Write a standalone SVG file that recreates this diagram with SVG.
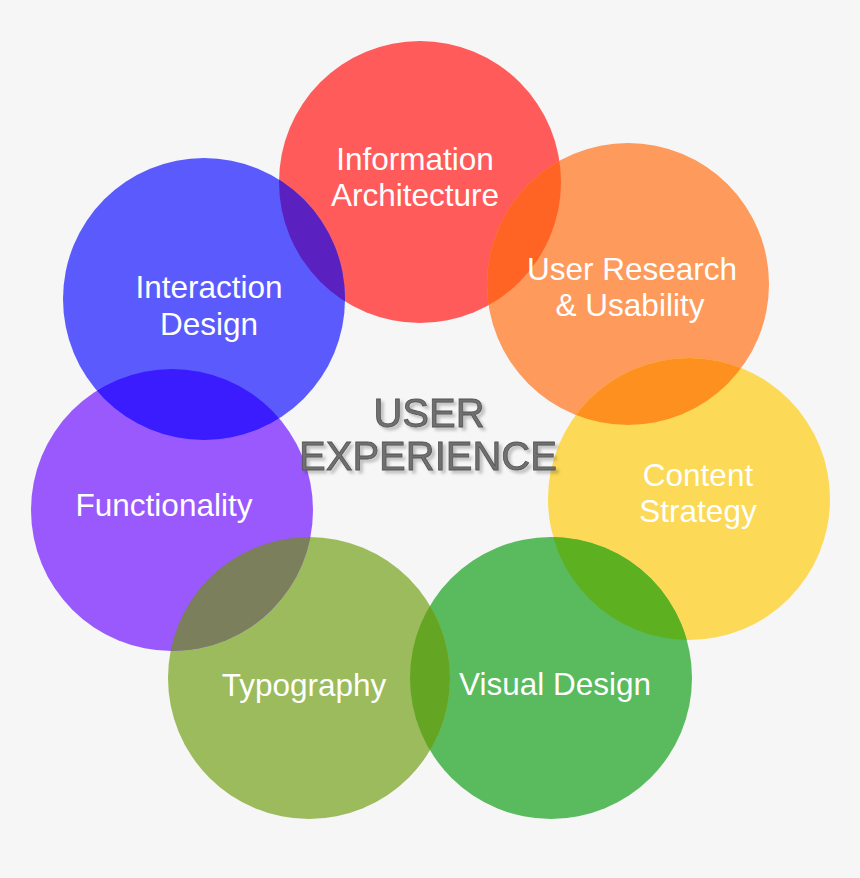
<svg xmlns="http://www.w3.org/2000/svg" width="860" height="878" viewBox="0 0 860 878">
<defs>
<style>
.lbl{font-family:"Liberation Sans",Arial,sans-serif;font-size:31.5px;fill:#ffffff;text-anchor:middle}
.ux{font-family:"Liberation Sans",Arial,sans-serif;font-size:40px;fill:#6f6f6f;stroke:#555555;stroke-width:0.8;text-anchor:middle;filter:url(#sh)}
</style>
<filter id="sh" x="-10%" y="-20%" width="120%" height="150%">
<feGaussianBlur in="SourceAlpha" stdDeviation="1.5" result="b"/>
<feOffset in="b" dx="3" dy="3" result="o"/>
<feFlood flood-color="#000" flood-opacity="0.22"/>
<feComposite in2="o" operator="in" result="s"/>
<feMerge><feMergeNode in="s"/><feMergeNode in="SourceGraphic"/></feMerge>
</filter>
<clipPath id="cRed"><circle cx="420" cy="182" r="141"/></clipPath>
<clipPath id="cOrange"><circle cx="628" cy="284" r="141"/></clipPath>
<clipPath id="cYellow"><circle cx="689" cy="499" r="141"/></clipPath>
<clipPath id="cGreen"><circle cx="551" cy="678" r="141"/></clipPath>
<clipPath id="cOlive"><circle cx="309" cy="678" r="141"/></clipPath>
<clipPath id="cPurple"><circle cx="172" cy="510" r="141"/></clipPath>
<clipPath id="cBlue"><circle cx="204" cy="299" r="141"/></clipPath>
</defs>
<rect width="860" height="878" fill="#f6f6f6"/>
<g id="circles">
<g id="information-architecture"><circle cx="420" cy="182" r="141" fill="#ff5b5b"/></g>
<g id="user-research"><circle cx="628" cy="284" r="141" fill="#fd9a5c"/></g>
<g id="content-strategy"><circle cx="689" cy="499" r="141" fill="#fcd956"/></g>
<g id="visual-design"><circle cx="551" cy="678" r="141" fill="#5aba5e"/></g>
<g id="typography"><circle cx="309" cy="678" r="141" fill="#9bbb5c"/></g>
<g id="functionality"><circle cx="172" cy="510" r="141" fill="#9959fd"/></g>
<g id="interaction-design"><circle cx="204" cy="299" r="141" fill="#5b5bfd"/></g>
</g>
<g id="overlaps">
<circle cx="628" cy="284" r="141" fill="#ff6424" clip-path="url(#cRed)"/>
<circle cx="689" cy="499" r="141" fill="#fe9020" clip-path="url(#cOrange)"/>
<circle cx="551" cy="678" r="141" fill="#5db020" clip-path="url(#cYellow)"/>
<circle cx="309" cy="678" r="141" fill="#64a524" clip-path="url(#cGreen)"/>
<circle cx="172" cy="510" r="141" fill="#7b7f5c" clip-path="url(#cOlive)"/>
<circle cx="204" cy="299" r="141" fill="#3a1cfe" clip-path="url(#cPurple)"/>
<circle cx="420" cy="182" r="141" fill="#5a20c0" clip-path="url(#cBlue)"/>
</g>
<g id="labels">
<text class="lbl" x="415" y="170">Information</text>
<text class="lbl" x="415" y="206">Architecture</text>
<text class="lbl" x="632" y="280">User Research</text>
<text class="lbl" x="630" y="316">&amp; Usability</text>
<text class="lbl" x="698" y="486">Content</text>
<text class="lbl" x="698" y="522">Strategy</text>
<text class="lbl" x="555" y="695">Visual Design</text>
<text class="lbl" x="304" y="696">Typography</text>
<text class="lbl" x="164" y="516">Functionality</text>
<text class="lbl" x="209" y="298">Interaction</text>
<text class="lbl" x="209" y="335">Design</text>
</g>
<g id="center-title">
<text class="ux" x="429" y="427">USER</text>
<text class="ux" x="428" y="470">EXPERIENCE</text>
</g>
</svg>
